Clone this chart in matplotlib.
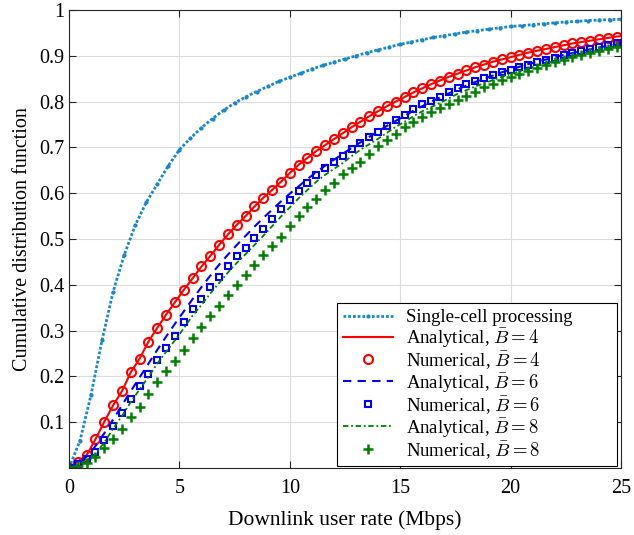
import numpy as np
import matplotlib
matplotlib.use("Agg")
import matplotlib.pyplot as plt

plt.rcParams['font.family'] = ['Liberation Serif', 'DejaVu Serif']
plt.rcParams['mathtext.fontset'] = 'cm'

# marker grid (Mbps) for the CDF samples, lines run on to 25
rate = np.round(np.arange(0, 24.81, 0.4), 1)
rate_line = np.append(rate, 25.0)

# single-cell processing, sampled every 0.5 Mbps
rate_single = np.round(np.arange(0, 25.01, 0.5), 1)
cdf_single = [0.0, 0.06, 0.16, 0.28, 0.385, 0.465, 0.53, 0.58, 0.62, 0.66,
              0.695, 0.72, 0.743, 0.763, 0.781, 0.797, 0.81, 0.822, 0.833, 0.844,
              0.853, 0.862, 0.871, 0.879, 0.886, 0.893, 0.9, 0.907, 0.913, 0.919,
              0.925, 0.93, 0.935, 0.94, 0.944, 0.948, 0.952, 0.955, 0.958, 0.961,
              0.964, 0.966, 0.968, 0.97, 0.972, 0.974, 0.975, 0.977, 0.978, 0.979,
              0.98]

# B = 4
ana_b4 = [0.0, 0.014, 0.028, 0.063, 0.101, 0.137, 0.168, 0.209, 0.239, 0.276,
          0.306, 0.335, 0.362, 0.389, 0.414, 0.44, 0.463, 0.487, 0.51, 0.531,
          0.55, 0.571, 0.59, 0.607, 0.625, 0.644, 0.662, 0.677, 0.692, 0.705,
          0.718, 0.731, 0.744, 0.756, 0.768, 0.779, 0.79, 0.80, 0.81, 0.82,
          0.829, 0.838, 0.846, 0.854, 0.861, 0.868, 0.875, 0.881, 0.887, 0.892,
          0.897, 0.902, 0.907, 0.911, 0.915, 0.919, 0.923, 0.927, 0.930, 0.933,
          0.936, 0.939, 0.942, 0.943]
num_b4 = [0.0, 0.014, 0.028, 0.063, 0.101, 0.137, 0.168, 0.209, 0.239, 0.276,
          0.306, 0.335, 0.362, 0.389, 0.414, 0.44, 0.463, 0.487, 0.51, 0.531,
          0.55, 0.571, 0.59, 0.607, 0.625, 0.644, 0.662, 0.677, 0.692, 0.705,
          0.718, 0.731, 0.744, 0.756, 0.768, 0.779, 0.79, 0.80, 0.81, 0.82,
          0.829, 0.838, 0.846, 0.854, 0.861, 0.868, 0.875, 0.881, 0.887, 0.892,
          0.897, 0.902, 0.907, 0.911, 0.915, 0.919, 0.923, 0.927, 0.930, 0.933,
          0.936, 0.939, 0.942]

# B = 6
ana_b6 = [0.0, 0.01, 0.025, 0.048, 0.076, 0.106, 0.137, 0.168, 0.198, 0.228,
          0.258, 0.287, 0.315, 0.342, 0.369, 0.395, 0.42, 0.444, 0.466, 0.487,
          0.507, 0.527, 0.546, 0.564, 0.582, 0.599, 0.615, 0.631, 0.646, 0.66,
          0.673, 0.686, 0.699, 0.711, 0.723, 0.735, 0.747, 0.758, 0.769, 0.78,
          0.79, 0.8, 0.809, 0.818, 0.827, 0.835, 0.843, 0.85, 0.857, 0.864,
          0.87, 0.876, 0.882, 0.887, 0.892, 0.897, 0.902, 0.906, 0.91, 0.914,
          0.918, 0.922, 0.925, 0.927]
num_b6 = [0.0, 0.008, 0.019, 0.035, 0.062, 0.092, 0.12, 0.151, 0.179, 0.206,
          0.236, 0.263, 0.288, 0.318, 0.347, 0.368, 0.395, 0.418, 0.441, 0.463,
          0.481, 0.502, 0.522, 0.544, 0.566, 0.586, 0.605, 0.622, 0.64, 0.655,
          0.668, 0.681, 0.696, 0.71, 0.722, 0.734, 0.747, 0.76, 0.771, 0.783,
          0.794, 0.802, 0.81, 0.82, 0.83, 0.838, 0.845, 0.852, 0.858, 0.864,
          0.87, 0.875, 0.881, 0.886, 0.891, 0.896, 0.901, 0.906, 0.911, 0.915,
          0.919, 0.923, 0.927]

# B = 8
ana_b8 = [0.0, 0.007, 0.017, 0.031, 0.056, 0.086, 0.114, 0.144, 0.172, 0.199,
          0.228, 0.254, 0.279, 0.305, 0.333, 0.356, 0.381, 0.404, 0.427, 0.448,
          0.467, 0.487, 0.507, 0.528, 0.549, 0.569, 0.589, 0.607, 0.625, 0.64,
          0.653, 0.666, 0.681, 0.695, 0.707, 0.719, 0.732, 0.745, 0.756, 0.768,
          0.779, 0.788, 0.797, 0.807, 0.817, 0.825, 0.833, 0.84, 0.847, 0.854,
          0.86, 0.866, 0.872, 0.878, 0.883, 0.889, 0.894, 0.899, 0.904, 0.909,
          0.913, 0.917, 0.921, 0.923]
num_b8 = [0.0, 0.004, 0.01, 0.023, 0.044, 0.064, 0.085, 0.111, 0.134, 0.161,
          0.188, 0.212, 0.234, 0.258, 0.283, 0.307, 0.331, 0.354, 0.377, 0.399,
          0.421, 0.443, 0.465, 0.485, 0.505, 0.528, 0.55, 0.569, 0.588, 0.607,
          0.623, 0.641, 0.655, 0.669, 0.686, 0.702, 0.717, 0.73, 0.744, 0.755,
          0.766, 0.777, 0.786, 0.795, 0.804, 0.813, 0.822, 0.831, 0.839, 0.847,
          0.853, 0.86, 0.866, 0.873, 0.879, 0.886, 0.891, 0.897, 0.901, 0.906,
          0.91, 0.915, 0.92]

fig = plt.figure(figsize=(6.34, 5.35), dpi=100)
ax = fig.add_axes([0.1088, 0.1252, 0.8707, 0.8561])

ax.plot(rate_single, cdf_single, color='#1888c8', lw=2.0, dashes=(1, 0.7),
        marker='.', markersize=4, label='Single-cell processing')
ax.plot(rate_line, ana_b4, '-', color='red', lw=1.5, label=r'Analytical, $\bar{B}=4$')
ax.plot(rate, num_b4, 'o', color='red', mfc='none', mew=1.5, markersize=6.5,
        label=r'Numerical, $\bar{B}=4$')
ax.plot(rate_line, ana_b6, '--', color='blue', lw=1.5, dashes=(4, 3),
        label=r'Analytical, $\bar{B}=6$')
ax.plot(rate, num_b6, 's', color='blue', mfc='none', mew=1.5, markersize=5,
        label=r'Numerical, $\bar{B}=6$')
ax.plot(rate_line, ana_b8, '-.', color='green', lw=1.3, dashes=(3, 1.5, 1, 1.5),
        label=r'Analytical, $\bar{B}=8$')
ax.plot(rate, num_b8, '+', color='green', mew=1.8, markersize=7,
        label=r'Numerical, $\bar{B}=8$')

ax.set_xlim(0, 25)
ax.set_ylim(0, 1)
ax.set_xticks([0, 5, 10, 15, 20, 25])
ax.set_yticks(np.round(np.arange(0.1, 1.01, 0.1), 1))
ax.set_yticklabels(['0.1', '0.2', '0.3', '0.4', '0.5', '0.6', '0.7', '0.8', '0.9', '1'])
ax.grid(True, color='#dddddd', lw=0.8)
ax.set_axisbelow(True)
ax.tick_params(direction='in', top=True, right=True, labelsize=14.5, length=5,
               width=0.8, colors='#262626', labelcolor='black')
ax.tick_params(axis='x', pad=8)
for s in ax.spines.values():
    s.set_color('#262626')
    s.set_linewidth(0.8)

ax.set_xlabel('Downlink user rate (Mbps)', fontsize=15.5, labelpad=9)
ax.set_ylabel('Cumulative distribution function', fontsize=14.5, labelpad=5)

leg = ax.legend(loc='lower left', bbox_to_anchor=(0.4855, 0.004, 0.5073, 0.3),
                mode='expand', fontsize=13.5, fancybox=False, edgecolor='black',
                framealpha=1, borderaxespad=0, handlelength=2.7,
                labelspacing=0.0, borderpad=0.3, handletextpad=0.7)
leg.get_frame().set_linewidth(0.8)

fig.savefig('out.png', dpi=100)
